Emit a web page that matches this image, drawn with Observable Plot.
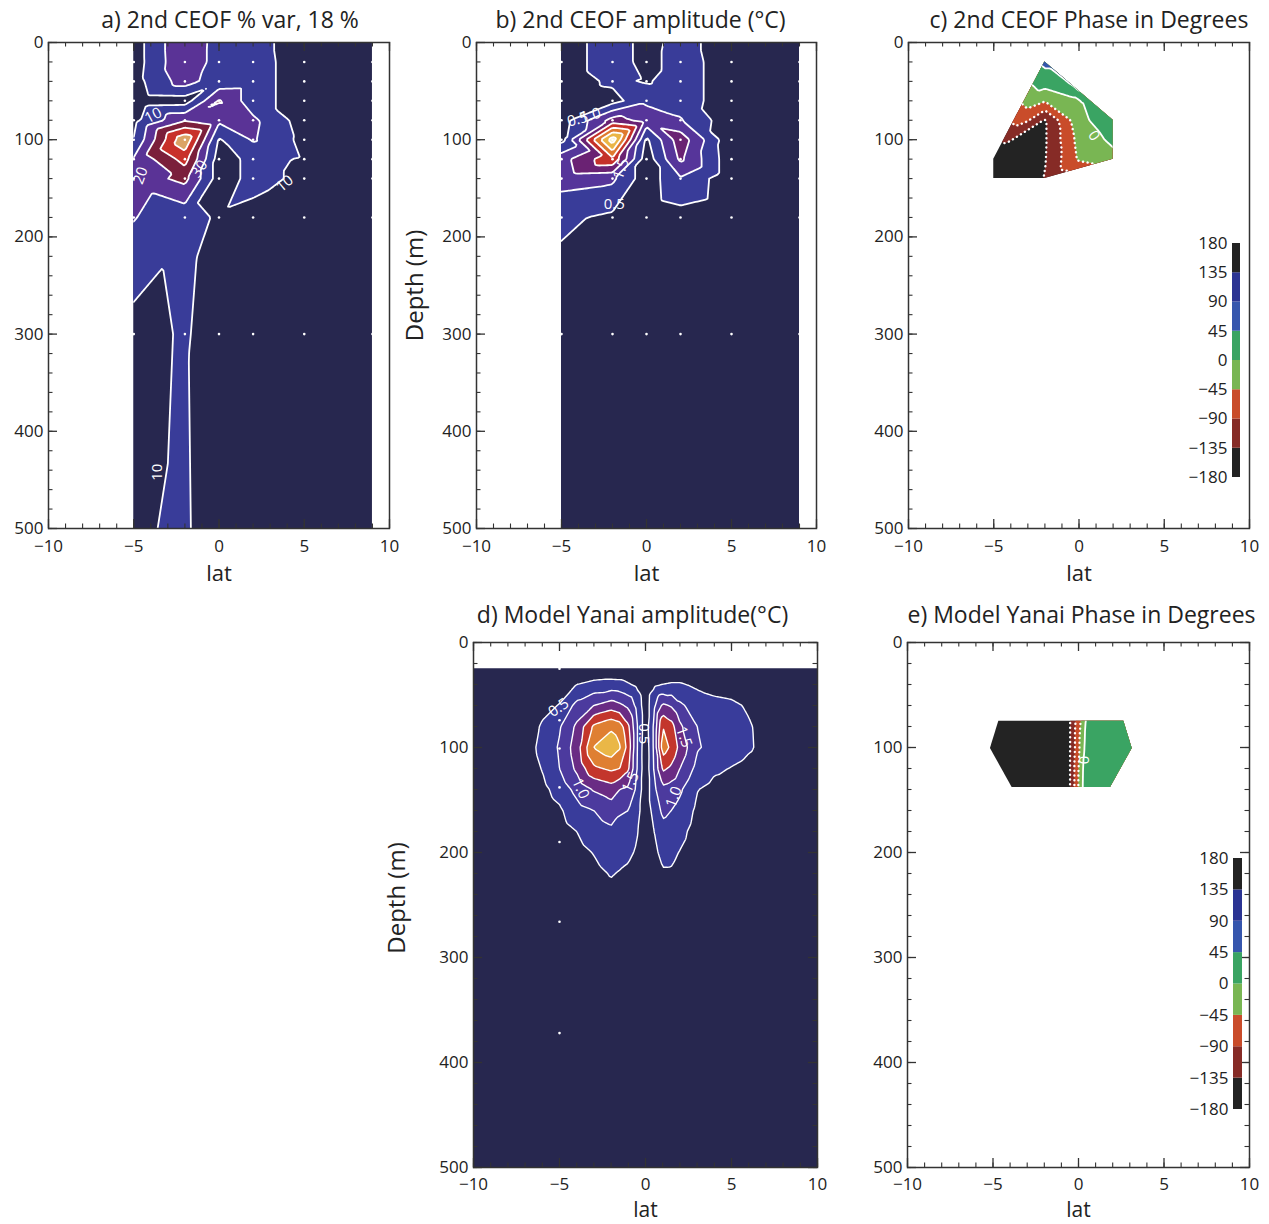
<!DOCTYPE html>
<html><head><meta charset="utf-8">
<script src="https://cdn.jsdelivr.net/npm/d3@7"></script>
<script src="https://cdn.jsdelivr.net/npm/@observablehq/plot@0.6"></script>
<style>
body{margin:0;background:#fff;font-family:"Open Sans",sans-serif;}
#wrap{position:relative;width:1269px;height:1224px;overflow:hidden;}
.p{position:absolute;}
</style></head><body><div id="wrap"></div>
<script>
// ---------------- DATA ----------------
const latTicks = [-10, -5, 0, 5, 10];
const latMinor = [-10,-9,-8,-7,-6,-5,-4,-3,-2,-1,0,1,2,3,4,5,6,7,8,9,10];
const depthTicks = [0, 100, 200, 300, 400, 500];
const depthMinor = [0,20,40,60,80,100,120,140,160,180,200,220,240,260,280,300,320,340,360,380,400,420,440,460,480,500];

// mooring grid (observations)
const mooringLats = [-5, -2, 0, 2, 5, 9];
const mooringDepths = [0, 20, 40, 60, 80, 100, 120, 140, 180, 300, 500];
const dotDepths = [20, 40, 60, 80, 100, 120, 140, 180, 300];

// a) % variance, rows = mooringDepths, cols = mooringLats
const varPctRows = [
  [5,    29.5, 15,  13.5, 5, 2],
  [5,    29,   15,  14,   5, 2],
  [6,    25,   13,  14,   5, 2],
  [4,    5,    31,  14,   5, 2],
  [7,    29,   22,  22,   5, 2],
  [10.5, 58,   9,   21,   7, 2],
  [21,   44,   5,   13,   9, 2],
  [24,   33,   5,   13,   8, 2],
  [20.5, 13,   9,   7,    3, 2],
  [6,    11.2, 4.3, 3,    2, 2],
  [8.25, 12,   0.6, 2,    2, 2]
];
const varThr = [-1, 10, 20, 30, 40, 50, 60];
const varColors = ["#27274f", "#393c99", "#5a3396", "#7b1f3b", "#c8312a", "#dba466", "#f3e2c4"];

// b) amplitude (°C), rows = mooringDepths, cols = mooringLats
const ampRows = [
  [0.2,  0.8, 0.3,  0.7,  0.2,  0.05],
  [0.2,  0.8, 0.3,  0.75, 0.2,  0.05],
  [0.2,  0.6, 0.45, 0.75, 0.2,  0.05],
  [0.2,  0.3, 0.9,  0.75, 0.2,  0.05],
  [0.25, 1.7, 1.3,  1.05, 0.15, 0.05],
  [0.35, 3.8, 0.4,  1.8,  0.1,  0.05],
  [1.3,  2.4, 0.2,  1.6,  0.15, 0.05],
  [1.2,  1.1, 0.2,  0.95, 0.15, 0.05],
  [0.6,  0.4, 0.15, 0.3,  0.1,  0.05],
  [0.1,  0.1, 0.1,  0.1,  0.05, 0.05],
  [0.1,  0.1, 0.1,  0.1,  0.05, 0.05]
];
const ampThr = [-1, 0.5, 1, 1.5, 2, 2.5, 3, 3.5];
const ampColors = ["#27274f", "#393c99", "#56359a", "#6a2273", "#c4312a", "#df7a2f", "#eab546", "#f7ecc0"];

// c) observed phase (degrees) at moorings
const phaseObsLat   = [-5, -5, -2, -2, -2, -2, -2, -2, -2, 0, 0, 0, 0, 2, 2, 2];
const phaseObsDepth = [120, 140, 20, 40, 60, 80, 100, 120, 140, 60, 80, 100, 120, 80, 100, 120];
const phaseObsVal   = [-175, -175, 55, 25, -42, -140, -140, -138, -134, -5, -15, -30, -38, 35, 10, -15];

// d) model amplitude (°C), rows = modelDepths, cols = modelLats
const modelLats = [-10, -7, -6, -5, -4, -3, -2, -1.5, -1, -0.5, 0, 0.5, 1, 1.5, 2, 3, 4, 5, 6, 7, 10];
const modelDepths = [25, 40, 60, 80, 100, 120, 140, 160, 180, 200, 220, 250, 500];
const modelAmpRows = [
  [0.01,0.02,0.03,0.05,0.08,0.10,0.10,0.10,0.08,0.05,0.05,0.05,0.10,0.12,0.15,0.15,0.12,0.10,0.08,0.05,0.01],
  [0.01,0.08,0.15,0.30,0.50,0.65,0.70,0.68,0.55,0.40,0.15,0.40,0.50,0.55,0.55,0.42,0.35,0.30,0.20,0.15,0.01],
  [0.01,0.18,0.38,0.52,1.15,1.50,1.75,1.60,1.40,0.85,0.20,0.90,1.60,1.45,1.10,0.75,0.62,0.58,0.45,0.28,0.01],
  [0.01,0.26,0.55,0.95,1.60,2.60,2.90,2.75,2.10,1.05,0.20,1.10,2.50,2.20,1.60,1.00,0.82,0.70,0.54,0.36,0.01],
  [0.01,0.30,0.62,1.06,1.75,3.02,3.35,3.05,2.30,1.05,0.12,1.10,2.75,2.40,1.85,1.05,0.85,0.70,0.55,0.38,0.01],
  [0.01,0.26,0.52,1.00,1.60,2.40,2.60,2.50,2.10,1.02,0.15,1.05,2.10,1.90,1.50,0.85,0.58,0.48,0.38,0.28,0.01],
  [0.01,0.18,0.36,0.70,1.15,1.55,1.75,1.50,1.40,0.90,0.15,0.90,1.35,1.25,1.08,0.52,0.35,0.30,0.22,0.15,0.01],
  [0.01,0.11,0.22,0.42,0.82,1.00,1.25,1.05,1.00,0.70,0.15,0.70,1.10,1.00,0.85,0.40,0.25,0.20,0.15,0.10,0.01],
  [0.01,0.08,0.14,0.28,0.50,0.75,0.90,0.85,0.78,0.55,0.15,0.50,0.85,0.80,0.65,0.30,0.18,0.14,0.10,0.07,0.01],
  [0.01,0.05,0.10,0.20,0.35,0.52,0.72,0.65,0.58,0.45,0.12,0.40,0.62,0.60,0.48,0.22,0.12,0.10,0.08,0.05,0.01],
  [0.01,0.04,0.07,0.14,0.25,0.38,0.53,0.47,0.42,0.35,0.10,0.30,0.45,0.45,0.35,0.15,0.10,0.08,0.06,0.04,0.01],
  [0.01,0.03,0.05,0.08,0.15,0.22,0.30,0.28,0.22,0.20,0.08,0.18,0.25,0.25,0.20,0.10,0.06,0.05,0.04,0.03,0.01],
  [0.01,0.01,0.02,0.02,0.02,0.02,0.02,0.02,0.02,0.02,0.02,0.02,0.02,0.02,0.02,0.02,0.02,0.02,0.02,0.01,0.01]
];
const modelThr = [-1, 0.5, 1, 1.5, 2, 2.5, 3];
const modelColors = ["#27274f", "#393c9b", "#4c3a9e", "#6a2c84", "#c3362c", "#df7f32", "#eab747"];
const modelDotLat = [-5, -5, -5, -5, -5, -5, -5];
const modelDotDepth = [25, 74, 101, 138, 190, 266, 372];

// e) model phase (degrees)
const phaseModLat   = [-4.66, -0.5, 0.45, 2.65, -5.15, -0.5, 0.35, 3.14, -3.88, -0.5, 0.25, 1.87];
const phaseModDepth = [75, 75, 75, 75, 101, 101, 101, 101, 138, 138, 138, 138];
const phaseModVal   = [-175, -140, 5, 20, -175, -140, 5, 20, -175, -140, 5, 20];

// phase colour classes
const phaseEdges = [-180, -135, -90, -45, 0, 45, 90, 135, 180];
const phaseColors = ["#232323", "#862b26", "#c94c2a", "#79b653", "#3aa463", "#3656ad", "#2b3493", "#232323"];
const phaseThr = [-181, -135, -90, -45, 0, 45, 90, 135];

// contour labels (lat, depth, text, rotation)
const aLabels = [
  {lat: -3.85, depth: 75, text: "10", rotate: -28},
  {lat: -4.6, depth: 137, text: "20", rotate: -70},
  {lat: -1.15, depth: 130, text: "30", rotate: -55},
  {lat: 3.85, depth: 145, text: "10", rotate: -40},
  {lat: -3.6, depth: 442, text: "10", rotate: -90}
];
const bLabels = [
  {lat: -4.05, depth: 79, text: "0.5", rotate: -15},
  {lat: -3.3, depth: 75, text: "1.0", rotate: -15},
  {lat: -1.5, depth: 130, text: "1.5", rotate: -70},
  {lat: -1.9, depth: 166, text: "0.5", rotate: 0}
];
const cLabels = [{lat: 0.87, depth: 96, text: "0", rotate: 55}];
const dLabels = [
  {lat: -5.05, depth: 62, text: "0.5", rotate: -35},
  {lat: -3.78, depth: 139, text: "1.0", rotate: 65},
  {lat: -0.87, depth: 133, text: "1.5", rotate: -65},
  {lat: -0.1, depth: 87, text: "0.5", rotate: 90},
  {lat: 2.23, depth: 90, text: "1.5", rotate: 70},
  {lat: 1.65, depth: 147, text: "1.0", rotate: -70}
];
const eLabels = [{lat: 0.31, depth: 112, text: "0", rotate: 90}];

// ---------------- BUILD TABLES ----------------
const gridPoints = (lats, depths, rows) =>
  depths.flatMap((depth, i) => lats.map((lat, j) => ({lat, depth, v: rows[i][j]})));
const pointsA = gridPoints(mooringLats, mooringDepths, varPctRows);
const pointsB = gridPoints(mooringLats, mooringDepths, ampRows);
const pointsC = phaseObsLat.map((lat, i) => ({lat, depth: phaseObsDepth[i], v: phaseObsVal[i]}));
const pointsD = gridPoints(modelLats, modelDepths, modelAmpRows);
const pointsE = phaseModLat.map((lat, i) => ({lat, depth: phaseModDepth[i], v: phaseModVal[i]}));
const mooringDots = dotDepths.flatMap(depth => mooringLats.map(lat => ({lat, depth})));
const modelDots = modelDotLat.map((lat, i) => ({lat, depth: modelDotDepth[i]}));

// triangulated (linear) interpolation, continuous extrapolation outside hull
function interpTri(index, width, height, X, Y, V) {
  const n = index.length;
  const px = new Float64Array(n), py = new Float64Array(n), pv = new Float64Array(n);
  for (let k = 0; k < n; ++k) { const i = index[k]; px[k] = X[i]; py[k] = Y[i]; pv[k] = V[i]; }
  const del = d3.Delaunay.from(d3.range(n), k => px[k], k => py[k]);
  const out = new Float64Array(width * height).fill(NaN);
  const T = del.triangles;
  for (let t = 0; t < T.length; t += 3) {
    const a = T[t], b = T[t + 1], c = T[t + 2];
    const ax = px[a], ay = py[a], bx = px[b], by = py[b], cx = px[c], cy = py[c];
    const det = (by - cy) * (ax - cx) + (cx - bx) * (ay - cy);
    if (Math.abs(det) < 1e-12) continue;
    const x0 = Math.max(0, Math.floor(Math.min(ax, bx, cx) - 1));
    const x1 = Math.min(width - 1, Math.ceil(Math.max(ax, bx, cx) + 1));
    const y0 = Math.max(0, Math.floor(Math.min(ay, by, cy) - 1));
    const y1 = Math.min(height - 1, Math.ceil(Math.max(ay, by, cy) + 1));
    for (let j = y0; j <= y1; ++j) {
      const yy = j + 0.5;
      for (let i = x0; i <= x1; ++i) {
        const xx = i + 0.5;
        const l1 = ((by - cy) * (xx - cx) + (cx - bx) * (yy - cy)) / det;
        const l2 = ((cy - ay) * (xx - cx) + (ax - cx) * (yy - cy)) / det;
        const l3 = 1 - l1 - l2;
        if (l1 >= -1e-9 && l2 >= -1e-9 && l3 >= -1e-9) out[j * width + i] = l1 * pv[a] + l2 * pv[b] + l3 * pv[c];
      }
    }
  }
  const H = del.hull, m = H.length;
  for (let j = 0; j < height; ++j) {
    const yy = j + 0.5;
    for (let i = 0; i < width; ++i) {
      const k = j * width + i;
      if (!Number.isNaN(out[k])) continue;
      const xx = i + 0.5;
      let best = Infinity, val = 0;
      for (let e = 0; e < m; ++e) {
        const a = H[e], b = H[(e + 1) % m];
        const dx = px[b] - px[a], dy = py[b] - py[a];
        const L2 = dx * dx + dy * dy;
        let s = L2 > 0 ? ((xx - px[a]) * dx + (yy - py[a]) * dy) / L2 : 0;
        s = Math.max(0, Math.min(1, s));
        const qx = px[a] + s * dx - xx, qy = py[a] + s * dy - yy;
        const d2 = qx * qx + qy * qy;
        if (d2 < best) { best = d2; val = pv[a] + (pv[b] - pv[a]) * s; }
      }
      out[k] = val;
    }
  }
  return out;
}

let clipId = 0;
function clipToHull(svg, points) {
  const sx = svg.scale("x"), sy = svg.scale("y");
  const hull = d3.polygonHull(points.map(p => [sx.apply(p.lat), sy.apply(p.depth)]));
  const ns = "http://www.w3.org/2000/svg";
  const id = "hullclip" + (clipId++);
  const defs = document.createElementNS(ns, "defs");
  const cp = document.createElementNS(ns, "clipPath");
  cp.setAttribute("id", id);
  const path = document.createElementNS(ns, "path");
  path.setAttribute("d", "M" + hull.map(p => p.join(",")).join("L") + "Z");
  cp.appendChild(path); defs.appendChild(cp);
  svg.insertBefore(defs, svg.firstChild);
  const groups = Array.from(svg.querySelectorAll('g[aria-label="contour"]'));
  if (!groups.length) return;
  const wrap = document.createElementNS(ns, "g");
  wrap.setAttribute("clip-path", `url(#${id})`);
  groups[0].parentNode.insertBefore(wrap, groups[0]);
  groups.forEach(g => wrap.appendChild(g));
}

const baseStyle = {fontFamily: '"Open Sans", sans-serif', fontSize: "17px", color: "#222", background: "transparent", overflow: "visible"};

function drawPanel(cfg) {
  const W = cfg.width - cfg.ml - cfg.mr, H = cfg.height - cfg.mt - cfg.mb;
  const base = {x: "lat", y: "depth", interpolate: interpTri,
    x1: cfg.ext[0], x2: cfg.ext[1], y1: cfg.ext[2], y2: cfg.ext[3]};
  const marks = [
    Plot.contour(cfg.points, {...base, fill: "v", stroke: "none", thresholds: cfg.fillThr}),
    Plot.contour(cfg.points, {...base, value: "v", fill: "none", stroke: "white", strokeWidth: cfg.lw, strokeLinejoin: "round", thresholds: cfg.solidThr})
  ];
  if (cfg.dotThr) marks.push(Plot.contour(cfg.points, {...base, value: "v", fill: "none", stroke: "white",
    strokeWidth: 2.4, strokeLinecap: "round", strokeDasharray: "0.1 4.6", thresholds: cfg.dotThr}));
  if (cfg.dots) marks.push(Plot.dot(cfg.dots, {x: "lat", y: "depth", r: 1.3, fill: "white", stroke: "none"}));
  if (cfg.labels) marks.push(Plot.text(cfg.labels, {x: "lat", y: "depth", text: "text", rotate: "rotate", fill: "white", fontSize: 15}));
  const Lmaj = 9, Lmin = 4.5, tc = "#333";
  marks.push(
    Plot.tickX(latMinor, {x: d => d, insetTop: H - Lmin, stroke: tc, strokeWidth: 1.1}),
    Plot.tickX(latTicks, {x: d => d, insetTop: H - Lmaj, stroke: tc, strokeWidth: 1.3}),
    Plot.tickX(latMinor, {x: d => d, insetBottom: H - Lmin, stroke: tc, strokeWidth: 1.1}),
    Plot.tickX(latTicks, {x: d => d, insetBottom: H - Lmaj, stroke: tc, strokeWidth: 1.3}),
    Plot.tickY(depthMinor, {y: d => d, insetRight: W - Lmin, stroke: tc, strokeWidth: 1.1}),
    Plot.tickY(depthTicks, {y: d => d, insetRight: W - Lmaj, stroke: tc, strokeWidth: 1.3})
  );
  if (cfg.rightTicks) marks.push(
    Plot.tickY(depthMinor, {y: d => d, insetLeft: W - Lmin, stroke: tc, strokeWidth: 1.1}),
    Plot.tickY(depthTicks, {y: d => d, insetLeft: W - Lmaj, stroke: tc, strokeWidth: 1.3})
  );
  marks.push(
    Plot.frame({stroke: "#333", strokeWidth: 1.5}),
    Plot.axisX(latTicks, {tickSize: 0, tickPadding: cfg.xPad, tickFormat: d3.format("d"), fontSize: 17, label: null}),
    Plot.axisY(depthTicks, {tickSize: 0, tickPadding: 5, tickFormat: d3.format("d"), fontSize: 17, label: null}),
    Plot.text([cfg.title], {frameAnchor: "top", lineAnchor: "middle", dy: cfg.titleDy, dx: cfg.titleDx, fontSize: 23, fill: "#222"}),
    Plot.text(["lat"], {frameAnchor: "bottom", lineAnchor: "middle", dy: cfg.latDy, fontSize: cfg.latSize, fill: "#222"})
  );
  if (cfg.depthLabelDx) marks.push(Plot.text(["Depth (m)"], {frameAnchor: "left", textAnchor: "middle", lineAnchor: "middle",
    dx: cfg.depthLabelDx, dy: cfg.depthLabelDy || 0, rotate: -90, fontSize: 24, fill: "#222"}));
  const svg = Plot.plot({
    width: cfg.width, height: cfg.height,
    marginLeft: cfg.ml, marginRight: cfg.mr, marginTop: cfg.mt, marginBottom: cfg.mb,
    x: {domain: [-10, 10]},
    y: {domain: [500, 0]},
    color: {type: "threshold", domain: cfg.fillThr.slice(1), range: cfg.colors},
    style: baseStyle,
    marks
  });
  clipToHull(svg, cfg.points);
  const div = document.createElement("div");
  div.className = "p";
  div.style.left = cfg.left + "px"; div.style.top = cfg.top + "px";
  div.appendChild(svg);
  document.getElementById("wrap").appendChild(div);
}

function drawLegend(cfg) {
  const bins = phaseEdges.slice(0, -1).map((lo, i) => ({lo, hi: phaseEdges[i + 1], color: phaseColors[i]}));
  const svg = Plot.plot({
    width: cfg.width, height: cfg.height,
    marginLeft: cfg.ml, marginRight: cfg.mr, marginTop: cfg.mt, marginBottom: cfg.mb,
    x: {domain: [0, 1], axis: null},
    y: {domain: [-180, 180]},
    color: {type: "identity"},
    style: baseStyle,
    marks: [
      Plot.rect(bins, {x1: 0, x2: 1, y1: "lo", y2: "hi", fill: "color"}),
      Plot.axisY(phaseEdges, {tickSize: 0, tickPadding: 5, tickFormat: d3.format("d"), fontSize: 17, label: null})
    ]
  });
  const div = document.createElement("div");
  div.className = "p";
  div.style.left = cfg.left + "px"; div.style.top = cfg.top + "px";
  div.appendChild(svg);
  document.getElementById("wrap").appendChild(div);
}

const topRow = {height: 600, mt: 42, mb: 72, titleDy: -22, xPad: 11, latDy: 45, latSize: 22};
const botRow = {top: 590, height: 634, mt: 52, mb: 57, titleDy: -27, xPad: 10, latDy: 43, latSize: 21, rightTicks: true};

drawPanel({...topRow, left: 0, top: 0, width: 420, ml: 48, mr: 31,
  title: "a) 2nd CEOF % var, 18 %", titleDx: 11,
  points: pointsA, ext: [-6, 10, -15, 515], fillThr: varThr, colors: varColors,
  solidThr: varThr.slice(1), lw: 1.8, dots: mooringDots, labels: aLabels});

drawPanel({...topRow, left: 400, top: 0, width: 430, ml: 76, mr: 14,
  title: "b) 2nd CEOF amplitude (°C)", titleDx: -6, depthLabelDx: -61,
  points: pointsB, ext: [-6, 10, -15, 515], fillThr: ampThr, colors: ampColors,
  solidThr: ampThr.slice(1), lw: 1.8, dots: mooringDots, labels: bLabels});

drawPanel({...topRow, left: 840, top: 0, width: 429, ml: 68, mr: 20,
  title: "c) 2nd CEOF Phase in Degrees", titleDx: 10,
  points: pointsC, ext: [-6, 3, 10, 150], fillThr: phaseThr, colors: phaseColors,
  solidThr: [0, 45, 90], dotThr: [-135, -90, -45], lw: 1.8, labels: cLabels});

drawPanel({...botRow, left: 380, width: 450, ml: 93, mr: 13,
  title: "d) Model Yanai amplitude(°C)", titleDx: -13, depthLabelDx: -76, depthLabelDy: -7,
  points: pointsD, ext: [-11, 11, 15, 510], fillThr: modelThr, colors: modelColors,
  solidThr: modelThr.slice(1), lw: 1.4, dots: modelDots, labels: dLabels});

drawPanel({...botRow, left: 840, width: 429, ml: 67, mr: 20,
  title: "e) Model Yanai Phase in Degrees", titleDx: 3,
  points: pointsE, ext: [-6, 4, 65, 148], fillThr: phaseThr, colors: phaseColors,
  solidThr: [0, 45, 90], dotThr: [-135, -90, -45], lw: 1.8, labels: eLabels});

drawLegend({left: 1160, top: 230, width: 90, height: 270, ml: 72, mr: 10, mt: 13, mb: 23});
drawLegend({left: 1160, top: 845, width: 90, height: 280, ml: 73, mr: 8, mt: 13, mb: 16});
</script></body></html>
